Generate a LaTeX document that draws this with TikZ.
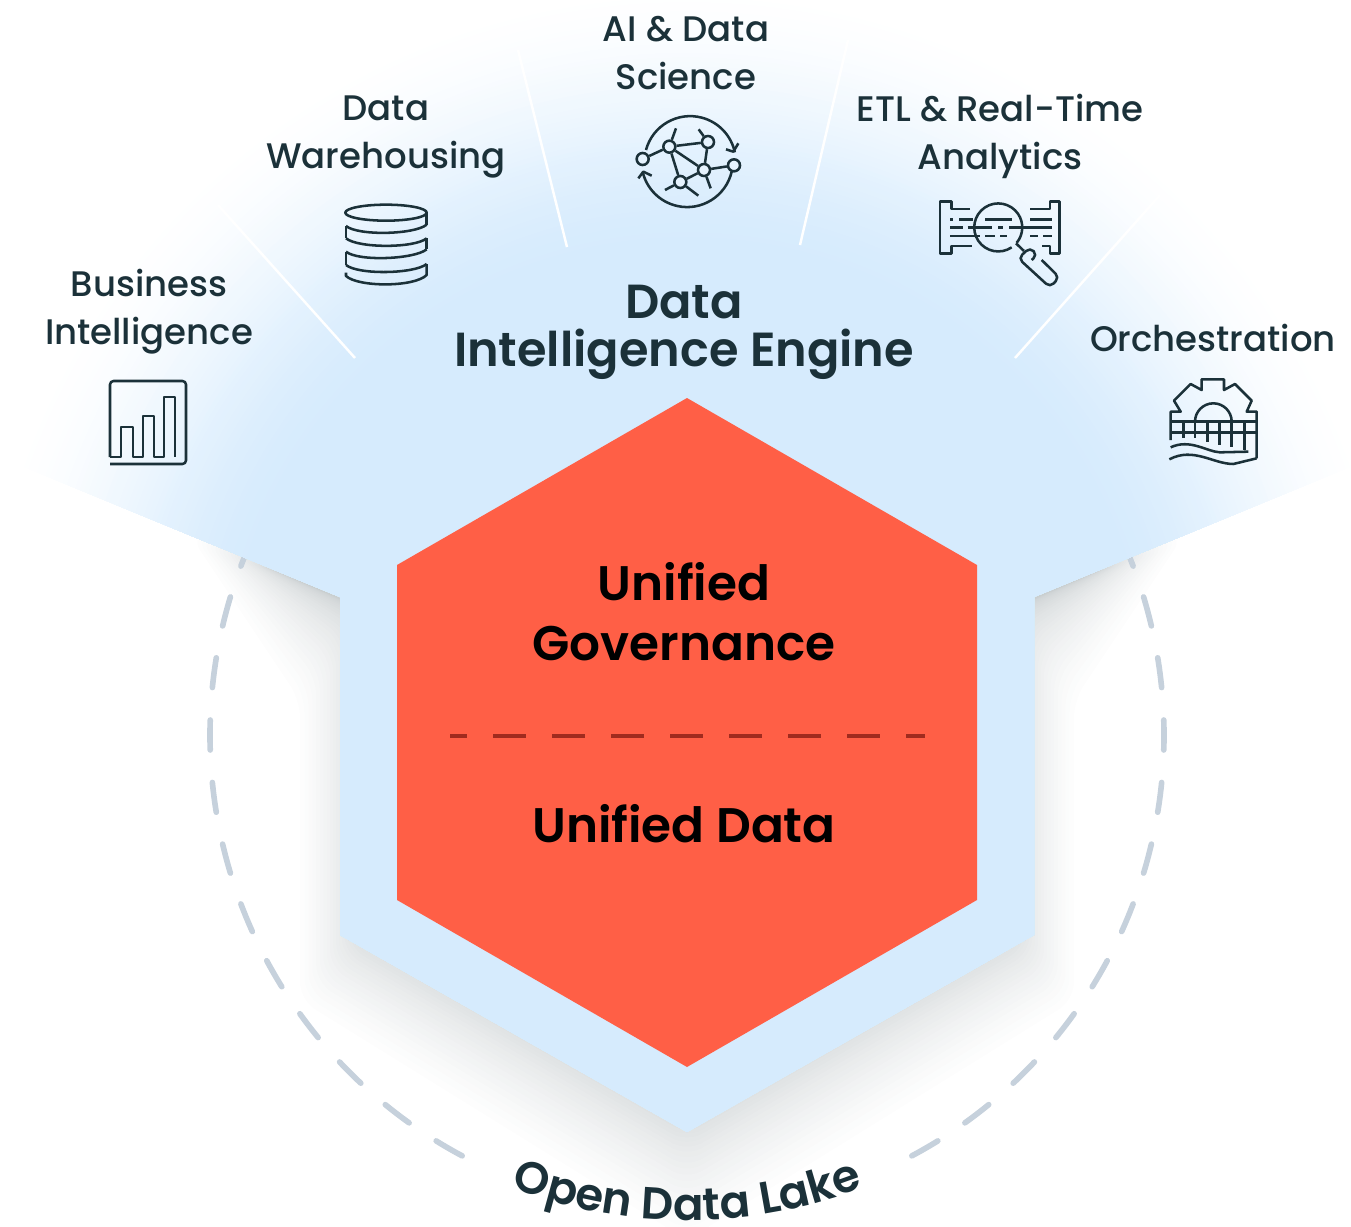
\documentclass[tikz,border=0pt]{standalone}
\usepackage{fontspec}
\setmainfont{Poppins}
\newfontfamily\mediumfont{Poppins Medium}
\newfontfamily\semifont{Poppins SemiBold}
\usetikzlibrary{decorations.text}
\definecolor{fanblue}{HTML}{D6EBFD}
\definecolor{hexred}{HTML}{FF5F46}
\definecolor{inkdark}{HTML}{1B3139}
\definecolor{lakegrey}{HTML}{C6D1DC}
\definecolor{sepred}{HTML}{A02B1E}
\definecolor{iconback}{HTML}{E6F3FE}
\tikzset{
  applabel/.style={align=center, inner sep=0pt, text=inkdark, font=\mediumfont\fontsize{10.1}{13.66}\selectfont},
  titlelabel/.style={align=center, inner sep=0pt, text=inkdark, font=\semifont\fontsize{13.6}{13.66}\selectfont},
  hexlabel/.style={align=center, inner sep=0pt, text=black, font=\semifont\fontsize{13.8}{17}\selectfont},
  iconline/.style={draw=inkdark, line width=0.72pt, line join=round},
  netdot/.style={shape=circle, draw=inkdark, line width=0.72pt, fill=iconback, inner sep=0pt, minimum size=0.12cm},
  slit/.style={draw=white, line width=0.7pt},
  lakedash/.style={draw=lakegrey, line width=1.6pt, line cap=round, dash pattern=on 0.30cm off 0.325cm, dash phase=0.15cm}
}
\begin{document}
\begin{tikzpicture}[x=0.01cm, y=-0.01cm]
  \useasboundingbox (0,0) rectangle (1351,1227);
  % shadow
  \foreach \i [evaluate=\i as \t using \i*\i/900] in {1,...,30}
    \fill[inkdark, opacity=0.008, rounded corners=5pt]
      ({260-70*\t},{564-29*\t}) -- ({365-65*\t},{610+90*\t}) -- ({365-65*\t},{930+70*\t}) -- (687,{1110+130*\t})
      -- ({1009+65*\t},{930+70*\t}) -- ({1009+65*\t},{610+90*\t}) -- ({1114+70*\t},{564-29*\t}) -- cycle;
  % open data lake
  \draw[lakedash] (210,735) arc[start angle=180, end angle=243, radius=4.77cm];
  \draw[lakedash] (210,735) arc[start angle=180, end angle=158, radius=4.77cm];
  \draw[lakedash] (1164,735) arc[start angle=0, end angle=-63, radius=4.77cm];
  \draw[lakedash] (1164,735) arc[start angle=0, end angle=22, radius=4.77cm];
  \path[decorate, decoration={text along path, text align=center, text={|\semifont\fontsize{12.8}{12.8}\selectfont\color{inkdark}|Open Data Lake}}]
    (687,735) ++(236:4.85cm) arc[start angle=236, end angle=304, radius=4.85cm];
  % engine
  \begin{scope}
    \clip (340,597) -- (-10,453) -- (-10,-10) -- (1384,-10) -- (1384,453) -- (1034,597) -- (1034,935) -- (687,1132) -- (340,935) -- cycle;
    \foreach \i [evaluate=\i as \p using \i/60*\i/60*(3-2*\i/60)*100, evaluate=\i as \r using (720-\i*4.6)/100] in {0,...,60}
      \fill[fanblue!\p!white] (687,700) circle[radius=\r cm];
  \end{scope}
  \draw[slit] (355,358) -- (218,205);
  \draw[slit] (567,247) -- (518,50);
  \draw[slit] (800,245) -- (848,40);
  \draw[slit] (1015,358) -- (1160,195);
  % hexagon
  \fill[hexred] (687,398) -- (977,565) -- (977,900) -- (687,1067) -- (397,900) -- (397,565) -- cycle;
  \coordinate (sepleft) at (450,736);
  \coordinate (sepright) at (925,736);
  \draw[sepred, line width=1.4pt, dash pattern=on 0.33cm off 0.26cm, dash phase=0.16cm] (sepleft) -- (sepright);
  \node[hexlabel] (governance) at (684,612) {Unified\\Governance};
  \node[hexlabel] (unified) at (684,824) {Unified Data};
  \node[titlelabel] (engine) at (684,332) {Data\\Intelligence Engine};
  % labels
  \node[applabel] (bi) at (149,312) {Business\\Intelligence};
  \node[applabel] (dw) at (386,137) {Data\\Warehousing};
  \node[applabel] (ai) at (686,53) {AI \& Data\\Science};
  \node[applabel] (etl) at (1000,136) {ETL \& Real-Time\\Analytics};
  \node[applabel] (orch) at (1213,338) {Orchestration};
  % chart icon
  \draw[iconline, rounded corners=1pt] (110,457) -- (110,381) -- (186,381) -- (186,464) -- (110,464);
  \draw[iconline] (110,457) -- (121,457) -- (121,427) -- (133,427) -- (133,457) -- (143,457) -- (143,416) -- (154,416) -- (154,457) -- (164,457) -- (164,397) -- (175,397) -- (175,457);
  % database icon
  \begin{scope}[shift={(330,190)}, scale=1/3]
    \draw[iconline] (168,68) ellipse[x radius=1.22cm, y radius=0.24cm];
    \foreach \a/\b in {108/104, 145/145, 185/178, 225/222}
      \draw[iconline] (48,\a) .. controls (85,\a+30) and (253,\b+30) .. (290,\b);
    \draw[iconline] (48,248) -- (48,258) .. controls (85,292) and (253,292) .. (290,255) -- (290,222);
    \draw[iconline] (290,68) -- (290,104);
    \draw[iconline] (290,145) -- (290,178);
    \draw[iconline] (48,108) -- (48,145);
    \draw[iconline] (48,185) -- (48,225);
  \end{scope}
  % network icon
  \begin{scope}[shift={(620,100)}, scale=1/3]
    \draw[iconline] (78,150) arc[start angle=165, end angle=12, radius=1.37cm];
    \draw[iconline] (335,215) arc[start angle=-13, end angle=-167, radius=1.37cm];
    \draw[iconline] (318,148) -- (340,155) -- (355,130);
    \draw[iconline] (55,235) -- (70,215) -- (95,227);
    \coordinate (stubA) at (168,85);
    \coordinate (stubB) at (236,88);
    \coordinate (stubC) at (272,265);
    \coordinate (stubD) at (135,270);
    \coordinate (stubE) at (235,287);
    \node[netdot] (n1) at (68,177) {};
    \node[netdot] (n2) at (148,140) {};
    \node[netdot] (n3) at (264,126) {};
    \node[netdot] (n4) at (252,210) {};
    \node[netdot] (n5) at (342,196) {};
    \node[netdot] (n6) at (181,246) {};
    \foreach \a/\b in {n1/n2, n2/n3, n2/n4, n2/n6, n3/n4, n4/n5, n4/n6, n2/stubA, n3/stubB, n4/stubC, n6/stubD, n6/stubE}
      \draw[iconline] (\a) -- (\b);
  \end{scope}
  % search icon
  \begin{scope}[shift={(920,190)}, scale=1/3]
    \draw[iconline] (150,57) -- (95,57) -- (95,35) -- (60,35) -- (60,190) -- (95,190) -- (95,168) -- (155,168);
    \draw[iconline] (330,57) -- (390,57) -- (390,35) -- (418,35) -- (418,190) -- (390,190) -- (390,168) -- (365,168);
    \foreach \a/\b/\c in {90/100/88, 118/160/88, 195/275/88, 330/395/88,
                          90/130/112, 143/215/112, 235/250/112, 268/395/112,
                          90/180/138, 195/225/138, 240/262/138, 330/355/138, 370/395/138}
      \draw[iconline] (\a,\c) -- (\b,\c);
    \draw[iconline] (275,172) arc[start angle=-56, end angle=-400, radius=0.72cm];
    \draw[iconline] (288,160) -- (312,183);
    \draw[iconline, rounded corners=1.5pt] (365,210) -- (418,262) -- (390,292) -- (295,205) -- (330,172) -- (352,195) -- (335,210);
  \end{scope}
  % gear icon
  \begin{scope}[shift={(1150,370)}, scale=1/3]
    \draw[iconline] (62,210) -- (62,125) -- (92,125) -- (72,92) -- (122,42) -- (155,60) -- (155,28) -- (222,28) -- (222,60) -- (255,42) -- (305,92) -- (290,125) -- (320,125) -- (320,265);
    \draw[iconline] (62,155) -- (320,155);
    \draw[iconline] (62,188) -- (320,188);
    \foreach \a/\b in {100/205, 135/205, 172/215, 208/225, 245/230, 283/240}
      \draw[iconline] (\a,155) -- (\a,\b);
    \draw[iconline] (135,155) arc[start angle=180, end angle=0, radius=0.55cm];
    \draw[iconline] (62,232) .. controls (120,205) and (170,245) .. (210,247) -- (295,245);
    \draw[iconline] (58,268) .. controls (130,230) and (190,282) .. (250,282) -- (320,265);
  \end{scope}
\end{tikzpicture}
\end{document}
